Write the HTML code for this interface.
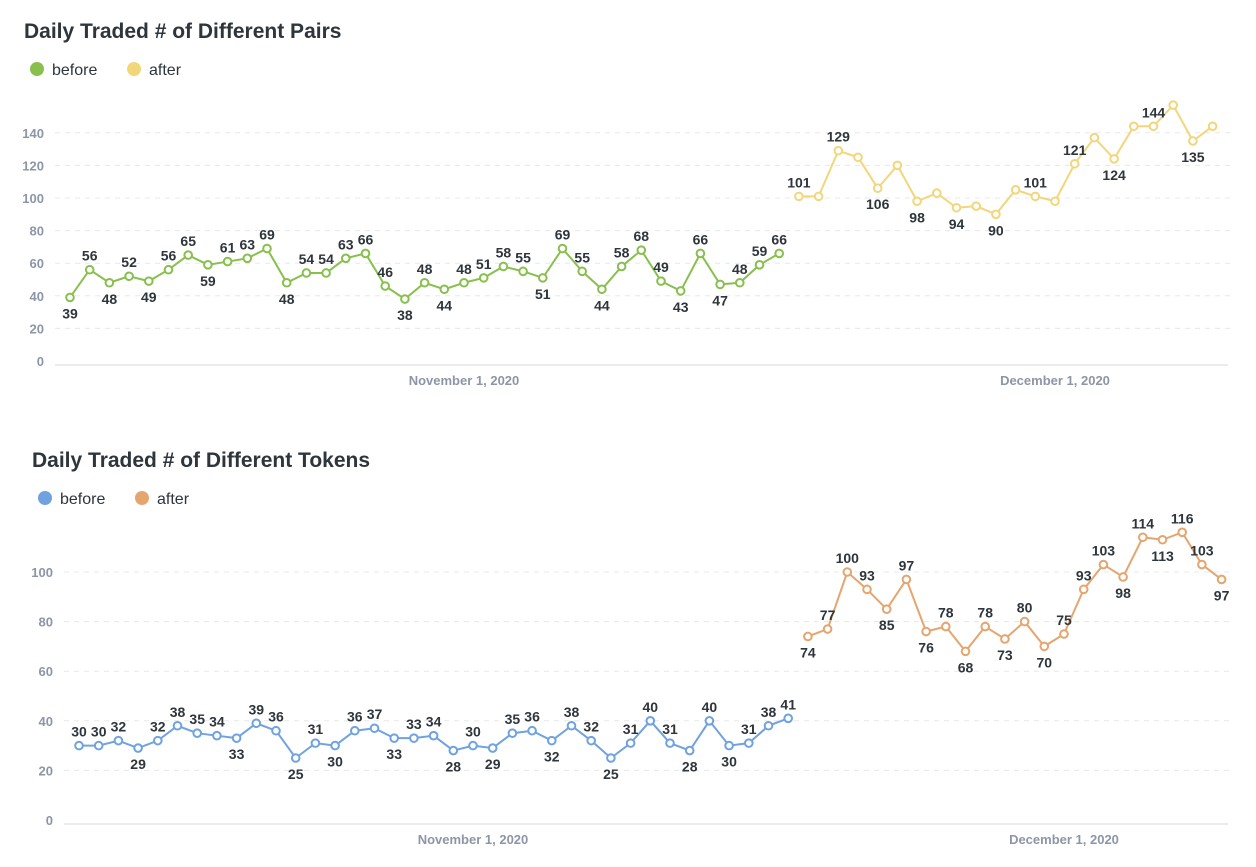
<!DOCTYPE html>
<html><head><meta charset="utf-8"><style>
body{margin:0;background:#fff;width:1256px;height:862px;overflow:hidden;font-family:"Liberation Sans",sans-serif}
svg text{font-family:"Liberation Sans",sans-serif}
</style></head><body>
<svg id="svg" width="1256" height="862"></svg>
<script>
const pairsBefore=[39,56,48,52,49,56,65,59,61,63,69,48,54,54,63,66,46,38,48,44,48,51,58,55,51,69,55,44,58,68,49,43,66,47,48,59,66];
const pairsAfter=[101,101,129,125,106,120,98,103,94,95,90,105,101,98,121,137,124,144,144,157,135,144];
const pairsAfterShow=[1,0,1,0,1,0,1,0,1,0,1,0,1,0,1,0,1,0,1,0,1,0];
const pairsTicks=[0,20,40,60,80,100,120,140];
const tokBefore=[30,30,32,29,32,38,35,34,33,39,36,25,31,30,36,37,33,33,34,28,30,29,35,36,32,38,32,25,31,40,31,28,40,30,31,38,41];
const tokAfter=[74,77,100,93,85,97,76,78,68,78,73,80,70,75,93,103,98,114,113,116,103,97];
const tokTicks=[0,20,40,60,80,100];
const dateLabels=["November 1, 2020","December 1, 2020"];
const dateIdx=[20,50];

const NS="http://www.w3.org/2000/svg";
const svg=document.getElementById('svg');
function mk(tag,attrs,parent){const e=document.createElementNS(NS,tag);for(const k in attrs)e.setAttribute(k,attrs[k]);(parent||svg).appendChild(e);return e;}

function chart(cfg){
  const g=mk('g',{});
  
  
  const t=mk('text',{x:cfg.titleX,y:cfg.titleY,'font-size':21,'font-weight':'bold',fill:'#2e353b'},g);
  t.textContent=cfg.title;
  
  
  [[cfg.c1,'before'],[cfg.c2,'after']].forEach((l,i)=>{
    const lx=cfg.titleX+13+i*97;
    const c=mk('circle',{cx:lx,cy:cfg.titleY+31,r:7,fill:l[0]},g);
    
    
    const tx=mk('text',{x:lx+15,y:cfg.titleY+37,'font-size':16,fill:'#2e353b'},g);
    tx.textContent=l[1];
    
    
  });
  const y=v=>cfg.y0-(v/cfg.tickStep)*cfg.stepPx;
  const x=i=>cfg.x0+i*cfg.dx;
  cfg.ticks.forEach(v=>{
    if(v>0){const gl=mk('line',{x1:cfg.axL,x2:1230,y1:y(v),y2:y(v),stroke:'#e6e8ec','stroke-dasharray':'5,5'},g);
    
    }
    const tl=mk('text',{x:cfg.tickX,y:y(v)+5,'font-size':13,'font-weight':'bold',fill:'#8e95a6','text-anchor':'end'},g);
    tl.textContent=v;
    
    
  });
  const ax=mk('line',{x1:cfg.axL,x2:1228,y1:cfg.y0+4,y2:cfg.y0+4,stroke:'#d4d8de'},g);
  
  
  dateIdx.forEach((d,k)=>{
    const tl=mk('text',{x:x(d),y:cfg.y0+24,'font-size':13,'font-weight':'bold',fill:'#8e95a6','text-anchor':'middle'},g);
    tl.textContent=dateLabels[k];
    
    
  });
  function series(vals,off,col,show,name){
    const pts=vals.map((v,i)=>x(i+off)+','+y(v)).join(' ');
    const pl=mk('polyline',{points:pts,fill:'none',stroke:col,'stroke-width':2},g);
    
    
    vals.forEach((v,i)=>{
      const c=mk('circle',{cx:x(i+off),cy:y(v),r:3.8,fill:'#fff',stroke:col,'stroke-width':2},g);
      
      
      if(show&&!show[i])return;
      let below;
      if(i===0)below=v<vals[1];
      else if(i===vals.length-1)below=v<vals[i-1];
      else below=v<vals[i-1]&&v<=vals[i+1];
      const tl=mk('text',{x:x(i+off),y:below?y(v)+21:y(v)-9,'font-size':14,'font-weight':'bold',fill:'#2e353b','text-anchor':'middle'},g);
      tl.textContent=v;
      
      
    });
  }
  series(cfg.b,0,cfg.c1,null,'before');
  series(cfg.a,cfg.b.length,cfg.c2,cfg.show,'after');
}
chart({name:'pairs-chart',title:'Daily Traded # of Different Pairs',titleX:24,titleY:38,c1:'#88bf4d',c2:'#f1d67a',
  y0:361,tickStep:20,stepPx:32.6,x0:70,dx:19.7,axL:55,tickX:44,ticks:pairsTicks,b:pairsBefore,a:pairsAfter,show:pairsAfterShow});
chart({name:'tokens-chart',title:'Daily Traded # of Different Tokens',titleX:32,titleY:467,c1:'#6fa2df',c2:'#e5a56e',
  y0:820,tickStep:20,stepPx:49.6,x0:79,dx:19.7,axL:64,tickX:53,ticks:tokTicks,b:tokBefore,a:tokAfter,show:null});
</script>
</body></html>
